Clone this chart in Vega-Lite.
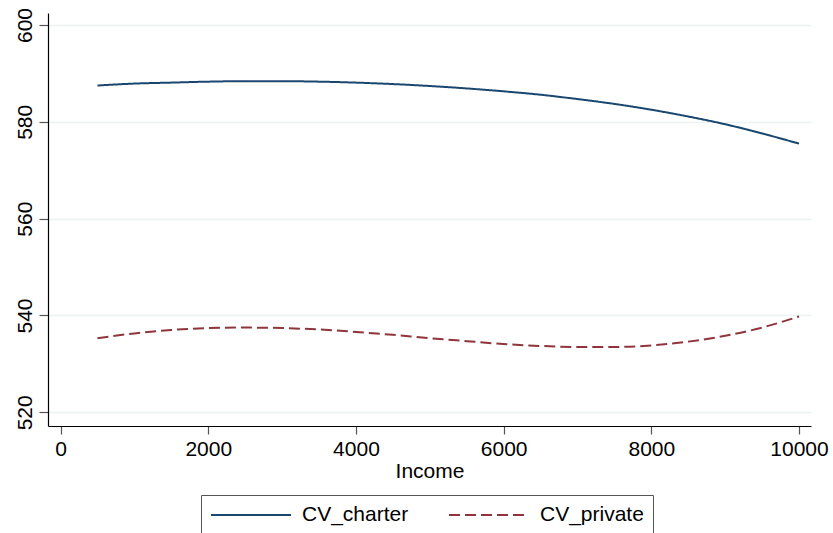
{
  "$schema": "https://vega.github.io/schema/vega-lite/v6.json",
  "width": 763,
  "height": 413,
  "autosize": {"type": "none"},
  "padding": {"left": 48, "top": 13, "right": 22, "bottom": 107},
  "background": "white",
  "config": {
    "view": {"stroke": null},
    "font": "Liberation Sans"
  },
  "datasets": {
    "curves": [
      {"Income": 500, "value": 587.5, "series": "CV_charter"},
      {"Income": 1000, "value": 587.9, "series": "CV_charter"},
      {"Income": 1500, "value": 588.1, "series": "CV_charter"},
      {"Income": 2000, "value": 588.3, "series": "CV_charter"},
      {"Income": 2500, "value": 588.4, "series": "CV_charter"},
      {"Income": 3000, "value": 588.4, "series": "CV_charter"},
      {"Income": 3500, "value": 588.3, "series": "CV_charter"},
      {"Income": 4000, "value": 588.1, "series": "CV_charter"},
      {"Income": 4500, "value": 587.8, "series": "CV_charter"},
      {"Income": 5000, "value": 587.4, "series": "CV_charter"},
      {"Income": 5500, "value": 586.9, "series": "CV_charter"},
      {"Income": 6000, "value": 586.3, "series": "CV_charter"},
      {"Income": 6500, "value": 585.6, "series": "CV_charter"},
      {"Income": 7000, "value": 584.7, "series": "CV_charter"},
      {"Income": 7500, "value": 583.7, "series": "CV_charter"},
      {"Income": 8000, "value": 582.5, "series": "CV_charter"},
      {"Income": 8500, "value": 581.1, "series": "CV_charter"},
      {"Income": 9000, "value": 579.5, "series": "CV_charter"},
      {"Income": 9500, "value": 577.6, "series": "CV_charter"},
      {"Income": 10000, "value": 575.5, "series": "CV_charter"},
      {"Income": 500, "value": 535.3, "series": "CV_private"},
      {"Income": 1000, "value": 536.3, "series": "CV_private"},
      {"Income": 1500, "value": 537.0, "series": "CV_private"},
      {"Income": 2000, "value": 537.4, "series": "CV_private"},
      {"Income": 2500, "value": 537.5, "series": "CV_private"},
      {"Income": 3000, "value": 537.4, "series": "CV_private"},
      {"Income": 3500, "value": 537.1, "series": "CV_private"},
      {"Income": 4000, "value": 536.6, "series": "CV_private"},
      {"Income": 4500, "value": 536.0, "series": "CV_private"},
      {"Income": 5000, "value": 535.3, "series": "CV_private"},
      {"Income": 5500, "value": 534.7, "series": "CV_private"},
      {"Income": 6000, "value": 534.1, "series": "CV_private"},
      {"Income": 6500, "value": 533.7, "series": "CV_private"},
      {"Income": 7000, "value": 533.5, "series": "CV_private"},
      {"Income": 7500, "value": 533.5, "series": "CV_private"},
      {"Income": 8000, "value": 533.8, "series": "CV_private"},
      {"Income": 8500, "value": 534.6, "series": "CV_private"},
      {"Income": 9000, "value": 535.8, "series": "CV_private"},
      {"Income": 9500, "value": 537.5, "series": "CV_private"},
      {"Income": 10000, "value": 539.8, "series": "CV_private"}
    ]
  },
  "data": {"name": "curves"},
  "mark": {"type": "line", "strokeWidth": 2, "interpolate": "monotone"},
  "encoding": {
    "x": {
      "field": "Income",
      "type": "quantitative",
      "scale": {"domain": [-170, 10162], "nice": false, "zero": false},
      "axis": {
        "title": "Income",
        "values": [0, 2000, 4000, 6000, 8000, 10000],
        "format": "d",
        "grid": false,
        "domainColor": "#000000",
        "domainWidth": 1.2,
        "tickColor": "#555555",
        "tickSize": 8,
        "tickWidth": 1.2,
        "labelFontSize": 21,
        "labelColor": "#000000",
        "labelPadding": 4,
        "labelFlush": false,
        "titleFontSize": 21,
        "titleFontWeight": "normal",
        "titleColor": "#000000",
        "titlePadding": 1
      }
    },
    "y": {
      "field": "value",
      "type": "quantitative",
      "scale": {"domain": [517.17, 602.48], "nice": false, "zero": false},
      "axis": {
        "title": null,
        "values": [520, 540, 560, 580, 600],
        "format": "d",
        "grid": true,
        "gridColor": "#eaf2f3",
        "gridWidth": 1.5,
        "domainColor": "#000000",
        "domainWidth": 1.2,
        "tickColor": "#555555",
        "tickSize": 9,
        "tickWidth": 1.2,
        "labelAngle": 270,
        "labelFontSize": 21,
        "labelColor": "#000000",
        "labelPadding": 4,
        "labelFlush": false
      }
    },
    "color": {
      "field": "series",
      "type": "nominal",
      "scale": {"domain": ["CV_charter", "CV_private"], "range": ["#1a476f", "#90353b"]},
      "legend": {
        "title": null,
        "orient": "none",
        "legendX": 153,
        "legendY": 482,
        "direction": "horizontal",
        "symbolType": "M-1,0H7",
        "symbolSize": 400,
        "symbolStrokeWidth": 2,
        "labelFontSize": 21,
        "labelColor": "#000000",
        "labelOffset": 70,
        "columnPadding": 36,
        "padding": 9,
        "strokeColor": "#555555",
        "cornerRadius": 0
      }
    },
    "strokeDash": {
      "field": "series",
      "type": "nominal",
      "scale": {"domain": ["CV_charter", "CV_private"], "range": [[1, 0], [11, 5]]},
      "legend": {
        "title": null,
        "orient": "none",
        "legendX": 153,
        "legendY": 482,
        "direction": "horizontal",
        "symbolType": "M-1,0H7",
        "symbolSize": 400,
        "symbolStrokeWidth": 2,
        "labelFontSize": 21,
        "labelColor": "#000000",
        "labelOffset": 70,
        "columnPadding": 36,
        "padding": 9,
        "strokeColor": "#555555",
        "cornerRadius": 0
      }
    }
  }
}
